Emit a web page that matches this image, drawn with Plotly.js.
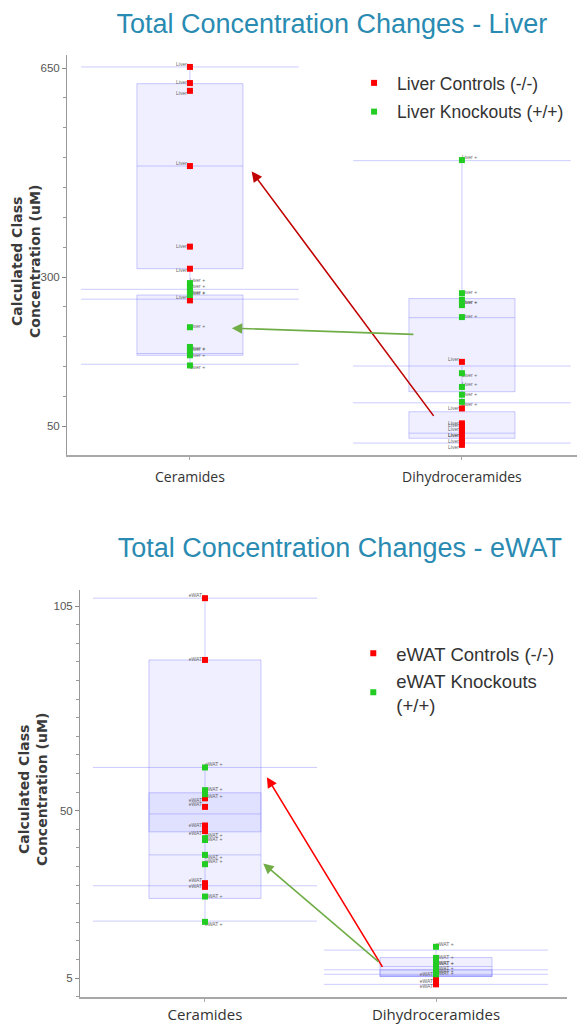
<!DOCTYPE html>
<html><head><meta charset="utf-8">
<script src="https://cdn.plot.ly/plotly-3.0.1.min.js"></script>
<style>
body{margin:0;background:#fff;width:577px;height:1025px;overflow:hidden;position:relative}
#liver{position:absolute;left:0;top:0;width:577px;height:512px}
#ewat{position:absolute;left:0;top:512px;width:577px;height:513px}
</style>
</head><body><div id="liver"></div><div id="ewat"></div>
<script>
const categories = ["Ceramides", "Dihydroceramides"];

// ---- Liver data (uM) ----
const liverCtrlCer = [652, 625, 612, 486, 351, 314, 261];
const liverKoCer   = [290, 283, 276, 270, 216, 183, 176, 169, 152];
const liverCtrlDih = [158, 80, 55, 50, 44, 38, 30, 24, 19];
const liverKoDih   = [496, 273, 262, 253, 233, 139, 116, 103, 91];
// box stats [Ceramides, Dihydroceramides]
const liverCtrlQ1 = [314, 30],   liverCtrlMed = [486, 38.6], liverCtrlQ3 = [624, 74.5];
const liverCtrlLo = [263, 22],   liverCtrlHi  = [652, 151];
const liverKoQ1   = [169, 108],  liverKoMed   = [172, 232],  liverKoQ3   = [270, 264];
const liverKoLo   = [154, 89.4], liverKoHi    = [279.5, 495];

// ---- eWAT data (uM) ----
const ewatCtrlCer = [107.1, 90.5, 53.3, 51, 46, 44.5, 30.5, 29.5];
const ewatKoCer   = [61.6, 55.5, 54.4, 42.6, 42.1, 38.1, 35.6, 26.9, 20.1];
const ewatCtrlDih = [5.3, 4.0, 3.3];
const ewatKoDih   = [13.4, 10.4, 9.5, 8.1, 7.4, 6.7, 6.0];
const ewatCtrlQ1 = [26.4, 5.4],  ewatCtrlMed = [38.1, 5.6],  ewatCtrlQ3 = [90.5, 7.2];
const ewatCtrlLo = [20.3, 3.3],  ewatCtrlHi  = [107.1, 7.2];
const ewatKoQ1   = [44.3, 5.4],  ewatKoMed   = [49.1, 8.1],  ewatKoQ3   = [54.8, 10.5];
const ewatKoLo   = [29.8, 6.0],  ewatKoHi    = [61.6, 12.5];

// arrows: [tailX, tailY, headX, headY] in data units
const liverRedArrow   = [0.90, 65, 0.227, 477];
const liverGreenArrow = [0.827, 204, 0.154, 214.5];
const ewatRedArrow    = [0.772, 7.6, 0.268, 59];
const ewatGreenArrow  = [0.758, 9.0, 0.252, 35.8];

const yTitle = 'Calculated Class<br>Concentration (uM)';

const RED = '#ff0000', GREEN = '#22cc22';
const BOXFILL = 'rgba(110,110,255,0.11)', BOXLINE = 'rgba(110,110,255,0.35)';
const POS_CTRL = ['top left', 'middle left', 'bottom left'];
const POS_KO = ['top right', 'middle right', 'bottom right'];

function pts(vals, idx, color, name, show, grp){
  return {type:'scatter', mode:'markers', x: vals.map(()=>idx), y: vals, name: name,
    showlegend: show, legendgroup: grp, hoverinfo:'y',
    marker:{symbol:'square', size:6, color: color}};
}
function lbl(vals, idx, label, pos){
  return {type:'scatter', mode:'text', x: vals.map(()=>idx), y: vals, text: vals.map(()=>label),
    textposition: vals.map((v,i)=>pos[i % pos.length]),
    textfont:{size:5, color:'#666'}, showlegend:false, hoverinfo:'skip'};
}
function box(q1, med, q3, lo, hi, w){
  return {type:'box', x: categories.map((c,i)=>i), q1:q1, median:med, q3:q3, lowerfence:lo, upperfence:hi,
    width:w, whiskerwidth:0, boxpoints:false, fillcolor:BOXFILL, line:{color:BOXLINE, width:1},
    showlegend:false, hoverinfo:'skip'};
}
function fenceLines(los, his, hw){
  const x=[], y=[];
  los.forEach((v,i)=>{ x.push(i-hw, i+hw, null); y.push(v, v, null); });
  his.forEach((v,i)=>{ x.push(i-hw, i+hw, null); y.push(v, v, null); });
  return {type:'scatter', mode:'lines', x:x, y:y, line:{color:BOXLINE, width:1},
    showlegend:false, hoverinfo:'skip'};
}
function arrow(a, color){
  return {x:a[2], y:a[3], ax:a[0], ay:a[1], xref:'x', yref:'y', axref:'x', ayref:'y',
    text:'', showarrow:true, arrowhead:2, arrowsize:1.3, arrowwidth:1.6, arrowcolor:color};
}
function yTitleAnn(xPaper, yPaper){
  return {text:yTitle, xref:'paper', yref:'paper', x:xPaper, y:yPaper, xanchor:'center', yanchor:'middle',
    textangle:-90, showarrow:false, align:'center',
    font:{size:14, color:'#3a3a3a', family:'DejaVu Sans', weight:'bold'}};
}
function axisY(range, tickvals, minorDtick){
  return {range:range, tickvals:tickvals, showgrid:false, zeroline:false, showline:true,
    linecolor:'#999', linewidth:1, ticks:'outside', ticklen:4, tickcolor:'#888',
    tickfont:{size:11.5, color:'#555', family:'Liberation Sans Narrow, Liberation Sans'},
    minor:{dtick:minorDtick, tick0:0, ticks:'outside', ticklen:3, tickcolor:'#999'}};
}
function axisX(range, standoff, fsize){
  return {range:range, tickvals: categories.map((c,i)=>i), ticktext: categories,
    showgrid:false, zeroline:false, showline:true, linecolor:'#a8a8a8', linewidth:2,
    ticks:'outside', ticklen:3, tickcolor:'#aaa', ticklabelstandoff:standoff,
    tickfont:{size:fsize, color:'#333', family:'Open Sans'}};
}

// ---- Liver figure ----
const liverTraces = [
  box(liverCtrlQ1, liverCtrlMed, liverCtrlQ3, liverCtrlLo, liverCtrlHi, 0.39),
  box(liverKoQ1, liverKoMed, liverKoQ3, liverKoLo, liverKoHi, 0.39),
  fenceLines(liverCtrlLo, liverCtrlHi, 0.4),
  fenceLines(liverKoLo, liverKoHi, 0.4),
  lbl(liverCtrlCer, 0, 'Liver -', POS_CTRL), lbl(liverCtrlDih, 1, 'Liver -', POS_CTRL),
  lbl(liverKoCer, 0, 'Liver +', POS_KO), lbl(liverKoDih, 1, 'Liver +', POS_KO),
  pts(liverCtrlCer, 0, RED, 'Liver Controls (-/-)', true, 'c'),
  pts(liverCtrlDih, 1, RED, 'Liver Controls (-/-)', false, 'c'),
  pts(liverKoCer, 0, GREEN, 'Liver Knockouts (+/+)', true, 'k'),
  pts(liverKoDih, 1, GREEN, 'Liver Knockouts (+/+)', false, 'k')
];
const liverLayout = {
  width:577, height:512, paper_bgcolor:'#fff', plot_bgcolor:'#fff',
  margin:{l:67, r:0, t:55, b:57},
  font:{family:'Liberation Sans, Arial', color:'#333'},
  title:{text:'Total Concentration Changes - Liver', x:0.575, xanchor:'center', y:1-24/512, yanchor:'middle',
    yref:'container', font:{size:27, color:'#2a8bb2', family:'Liberation Sans, Arial'}},
  xaxis: axisX([-0.452, 1.423], 5, 14),
  yaxis: axisY([2, 672], [50, 300, 650], 50),
  showlegend:true,
  legend:{x:0.557, y:0.975, xanchor:'left', yanchor:'top', bgcolor:'rgba(0,0,0,0)',
    font:{size:17.5, color:'#333'}, tracegroupgap:3, itemclick:false, itemwidth:36},
  annotations:[arrow(liverRedArrow, '#c00000'), arrow(liverGreenArrow, '#70ad47'),
    yTitleAnn((26-67)/510, (455-262)/400)],
  hovermode:false
};
Plotly.newPlot('liver', liverTraces, liverLayout, {displayModeBar:false, staticPlot:true});

// ---- eWAT figure ----
const ewatTraces = [
  box(ewatCtrlQ1, ewatCtrlMed, ewatCtrlQ3, ewatCtrlLo, ewatCtrlHi, 0.485),
  box(ewatKoQ1, ewatKoMed, ewatKoQ3, ewatKoLo, ewatKoHi, 0.485),
  fenceLines(ewatCtrlLo, ewatCtrlHi, 0.485),
  fenceLines(ewatKoLo, ewatKoHi, 0.485),
  lbl(ewatCtrlCer, 0, 'eWAT -', POS_CTRL), lbl(ewatCtrlDih, 1, 'eWAT -', POS_CTRL),
  lbl(ewatKoCer, 0, 'eWAT +', POS_KO), lbl(ewatKoDih, 1, 'eWAT +', POS_KO),
  pts(ewatCtrlCer, 0, RED, 'eWAT Controls (-/-)', true, 'c'),
  pts(ewatCtrlDih, 1, RED, 'eWAT Controls (-/-)', false, 'c'),
  pts(ewatKoCer, 0, GREEN, 'eWAT Knockouts<br>(+/+)', true, 'k'),
  pts(ewatKoDih, 1, GREEN, 'eWAT Knockouts<br>(+/+)', false, 'k')
];
const ewatLayout = {
  width:577, height:513, paper_bgcolor:'#fff', plot_bgcolor:'#fff',
  margin:{l:80, r:10, t:78, b:28},
  font:{family:'Liberation Sans, Arial', color:'#333'},
  title:{text:'Total Concentration Changes - eWAT', x:0.589, xanchor:'center', y:1-36/513, yanchor:'middle',
    yref:'container', font:{size:27, color:'#2a8bb2', family:'Liberation Sans, Arial'}},
  xaxis: axisX([-0.541, 1.567], 0, 15),
  yaxis: axisY([-0.1, 109.3], [5, 50, 105], 5),
  showlegend:true,
  legend:{x:0.555, y:0.89, xanchor:'left', yanchor:'top', bgcolor:'rgba(0,0,0,0)',
    font:{size:18.5, color:'#333'}, tracegroupgap:0, itemclick:false, itemwidth:36},
  annotations:[arrow(ewatRedArrow, '#ff0000'), arrow(ewatGreenArrow, '#70ad47'),
    yTitleAnn((33-80)/487, (997-790)/407)],
  hovermode:false
};
Plotly.newPlot('ewat', ewatTraces, ewatLayout, {displayModeBar:false, staticPlot:true});
</script>
</body></html>
